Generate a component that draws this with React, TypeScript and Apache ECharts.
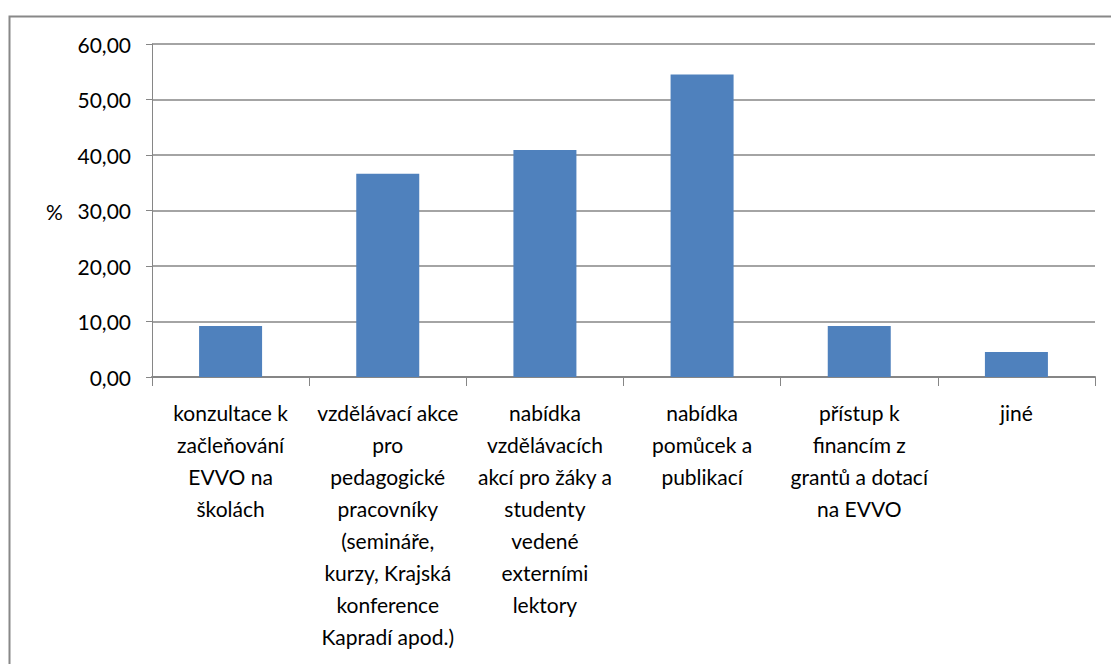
import React, { useEffect, useRef } from "react";
import * as echarts from "echarts";

const categories = [
  "konzultace k\nzačleňování\nEVVO na\nškolách",
  "vzdělávací akce\npro\npedagogické\npracovníky\n(semináře,\nkurzy, Krajská\nkonference\nKapradí apod.)",
  "nabídka\nvzdělávacích\nakcí pro žáky a\nstudenty\nvedené\nexterními\nlektory",
  "nabídka\npomůcek a\npublikací",
  "přístup k\nfinancím z\ngrantů a dotací\nna EVVO",
  "jiné",
];
const values = [9.2, 36.6, 40.9, 54.5, 9.2, 4.5];
const yMin = 0;
const yMax = 60;
const yStep = 10;
const yName = "%";

export default function App() {
  const ref = useRef<HTMLDivElement>(null);
  useEffect(() => {
    if (!ref.current) return;
    const chart = echarts.init(ref.current, null, { renderer: "svg" });
    const font = "Lato, 'Noto Sans', sans-serif";
    chart.setOption({
      animation: false,
      backgroundColor: "#ffffff",
      grid: { left: 152, right: 16, top: 44, bottom: 287, containLabel: false },
      graphic: [
        {
          type: "rect",
          left: 7,
          top: 14,
          shape: { width: 1200, height: 800 },
          style: { fill: "none", stroke: "#888888", lineWidth: 2 },
          silent: true,
          z: -1,
        },
        {
          type: "text",
          left: 46,
          top: 201,
          style: { text: yName, font: `21px ${font}`, fill: "#000" },
        },
      ],
      xAxis: {
        type: "category",
        data: categories,
        axisLine: { lineStyle: { color: "#868686", width: 2 } },
        axisTick: { show: true, length: 9, lineStyle: { color: "#868686", width: 1 } },
        axisLabel: {
          interval: 0,
          color: "#000",
          fontFamily: font,
          fontSize: 21,
          lineHeight: 32,
          margin: 19,
          verticalAlign: "top",
        },
      },
      yAxis: {
        type: "value",
        min: yMin,
        max: yMax,
        interval: yStep,
        axisLine: { show: true, lineStyle: { color: "#868686", width: 1 } },
        axisTick: { show: true, length: 6, lineStyle: { color: "#868686" } },
        splitLine: { lineStyle: { color: "#868686", width: 1.5 } },
        axisLabel: {
          color: "#000",
          fontFamily: font,
          fontSize: 21,
          margin: 21,
          formatter: (v: number) => v.toFixed(2).replace(".", ","),
        },
      },
      series: [
        {
          type: "bar",
          data: values,
          barWidth: 63,
          itemStyle: { color: "#4F81BD" },
        },
      ],
    });
    return () => chart.dispose();
  }, []);
  return (
    <div
      ref={ref}
      style={{ position: "fixed", left: 0, top: 0, width: 1111, height: 664 }}
    />
  );
}
